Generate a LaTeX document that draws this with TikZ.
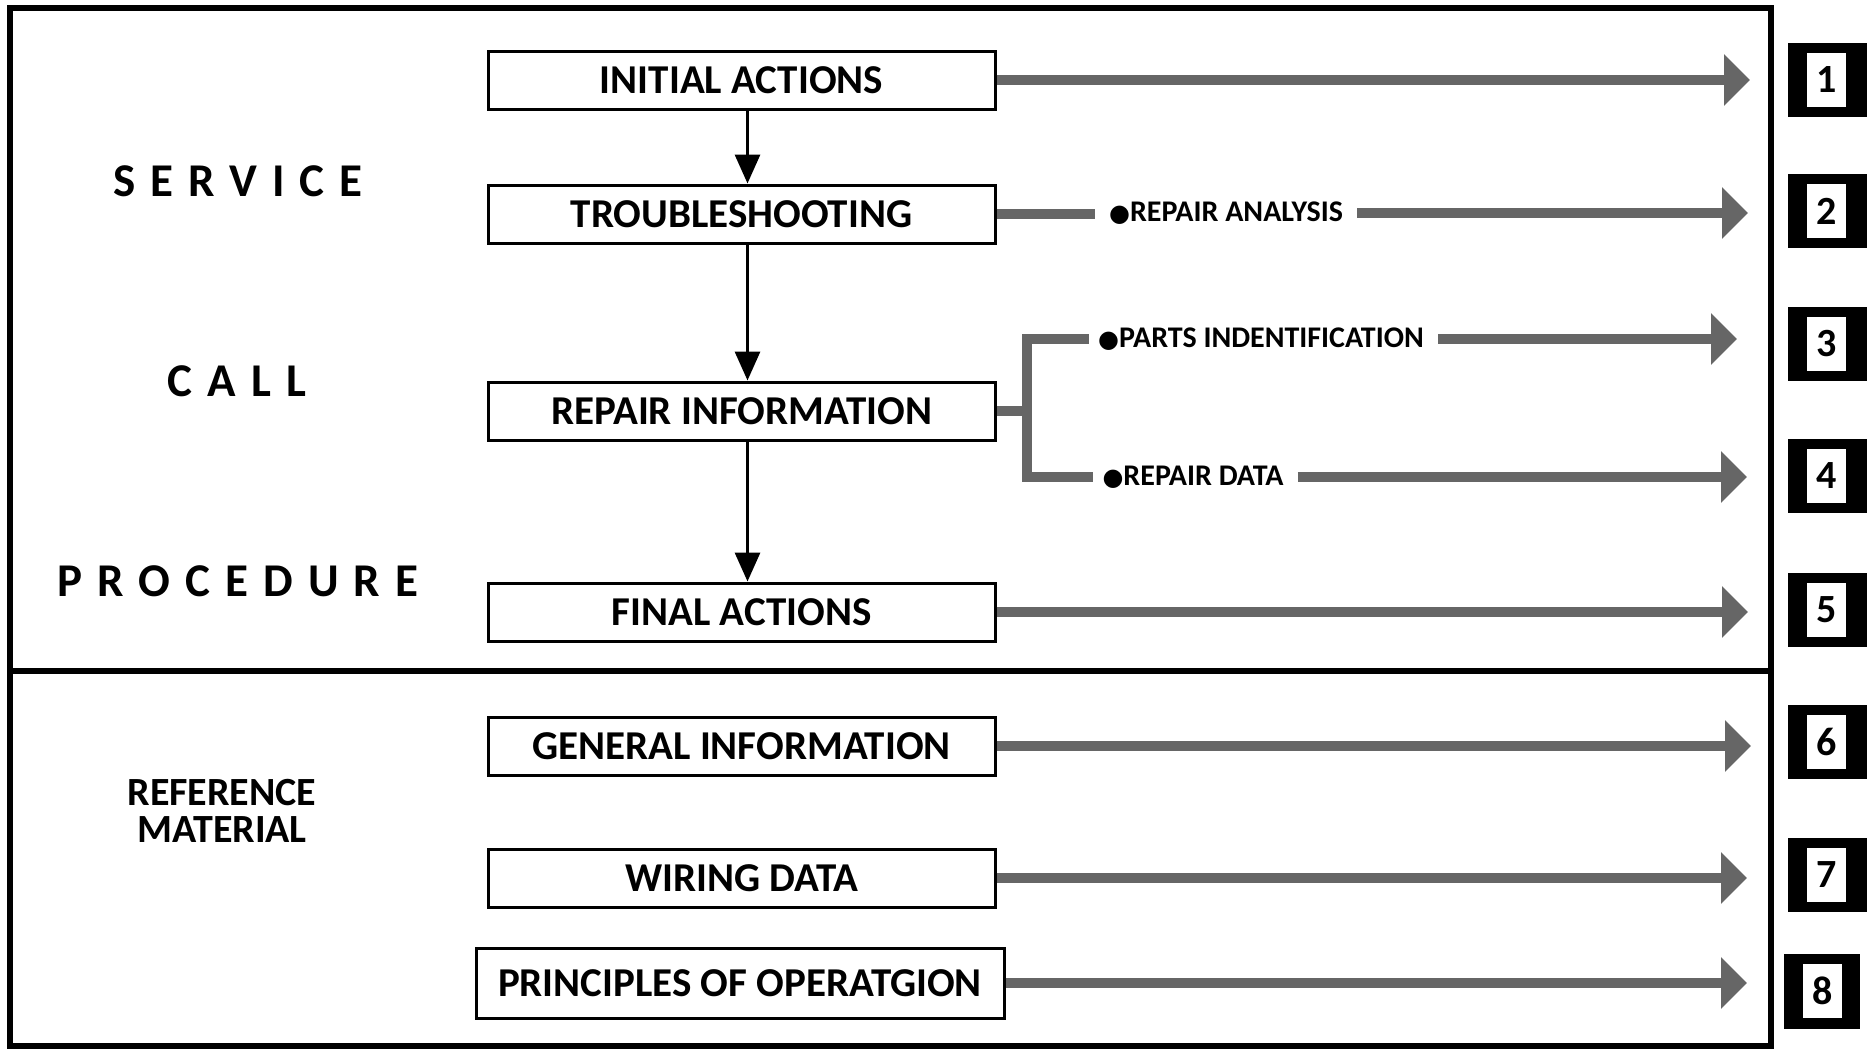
\documentclass[tikz,border=0pt]{standalone}
\usepackage{fontspec}
\setmainfont{Carlito}
\newfontfamily\symfont{DejaVu Sans}
\usetikzlibrary{arrows.meta}
\newcommand{\bul}{{\symfont\fontsize{12}{14}\selectfont ●}}
\begin{document}
\begin{tikzpicture}[x=0.5pt,y=-0.5pt,
  flowbox/.style={draw=black, line width=1.5pt, minimum width=253.5pt, minimum height=29pt, inner sep=0pt, font=\bfseries\fontsize{20.5}{22}\selectfont},
  gline/.style={draw=black!60, line width=4.8pt},
  garrow/.style={gline, -{Triangle[length=13pt,width=25pt]}},
  farrow/.style={draw=black, line width=1.6pt, -{Triangle[length=14.5pt,width=12.5pt]}},
  lbl/.style={inner xsep=7pt, inner ysep=0pt, font=\bfseries\fontsize{15}{17}\selectfont},
  side/.style={inner sep=0pt, font=\bfseries\fontsize{23.5}{26}\selectfont\addfontfeature{LetterSpace=32}},
  numbox/.style={fill=white, minimum width=19.5pt, minimum height=27pt, inner sep=0pt, font=\bfseries\fontsize{20}{22}\selectfont},
  frame/.style={draw=black, line width=3pt}]
\useasboundingbox (0,0) rectangle (1867,1051);
\fill[white] (0,0) rectangle (1867,1051);

% outer frame and divider
\draw[frame] (10,8) rectangle (1771,1046);
\draw[frame] (10,671) -- (1771,671);

% side labels
\node[side] (sv) at (238,181) {SERVICE};
\node[side] (cl) at (237,381) {CALL};
\node[side] (pr) at (238,581) {PROCEDURE};
\node[inner sep=0pt, align=center, font=\bfseries\fontsize{20}{18.5}\selectfont] (rm) at (222,811) {REFERENCE\\MATERIAL};

% flow boxes
\node[flowbox] (ia) at (741.5,80) {INITIAL ACTIONS};
\node[flowbox] (tr) at (741.5,214) {TROUBLESHOOTING};
\node[flowbox] (ri) at (741.5,411) {REPAIR INFORMATION};
\node[flowbox] (fa) at (741.5,612) {FINAL ACTIONS};
\node[flowbox] (gi) at (741.5,746) {GENERAL INFORMATION};
\node[flowbox] (wd) at (741.5,878) {WIRING DATA};
\node[flowbox, minimum width=264pt, minimum height=35pt] (po) at (740,983) {PRINCIPLES OF OPERATGION};

% vertical flow arrows
\draw[farrow] ([xshift=3pt]ia.south) -- ([xshift=3pt]tr.north);
\draw[farrow] ([xshift=3pt]tr.south) -- ([xshift=3pt]ri.north);
\draw[farrow] ([xshift=3pt]ri.south) -- ([xshift=3pt]fa.north);

% labels on connectors
\node[lbl] (ra) at (1226,213) {\bul REPAIR ANALYSIS};
\node[lbl] (pa) at (1261,339) {\bul PARTS INDENTIFICATION};
\node[lbl] (rd) at (1193,477) {\bul REPAIR DATA};

% free ends of arrows
\coordinate (e1) at (1750,80);
\coordinate (e2) at (1748,213);
\coordinate (e3) at (1737,339);
\coordinate (e4) at (1747,477);
\coordinate (e5) at (1748,612);
\coordinate (e6) at (1751,746);
\coordinate (e7) at (1747,878);
\coordinate (e8) at (1747,983);
\coordinate (bj) at (1027,411);

% grey arrows
\draw[garrow] (ia.east) -- (e1);
\draw[gline] (tr.east) -- (tr.east -| ra.west);
\draw[garrow] (ra.east) -- (e2);
\draw[gline] (ri.east) -- (bj);
\draw[gline, line cap=rect] (pa.west) -| (bj) |- (rd.west);
\draw[garrow] (pa.east) -- (e3);
\draw[garrow] (rd.east) -- (e4);
\draw[garrow] (fa.east) -- (e5);
\draw[garrow] (gi.east) -- (e6);
\draw[garrow] (wd.east) -- (e7);
\draw[garrow] (po.east) -- (e8);

% numbered tabs
\foreach \k/\y in {1/80,2/211,3/344,4/476,5/610,6/742,7/875}{
  \fill[black] (1788,\y-37) rectangle (1867,\y+37);
  \node[numbox] (n\k) at (1826.5,\y) {\k};
}
\fill[black] (1784,954) rectangle (1860,1029);
\node[numbox] (n8) at (1822.5,991) {8};
\end{tikzpicture}
\end{document}
